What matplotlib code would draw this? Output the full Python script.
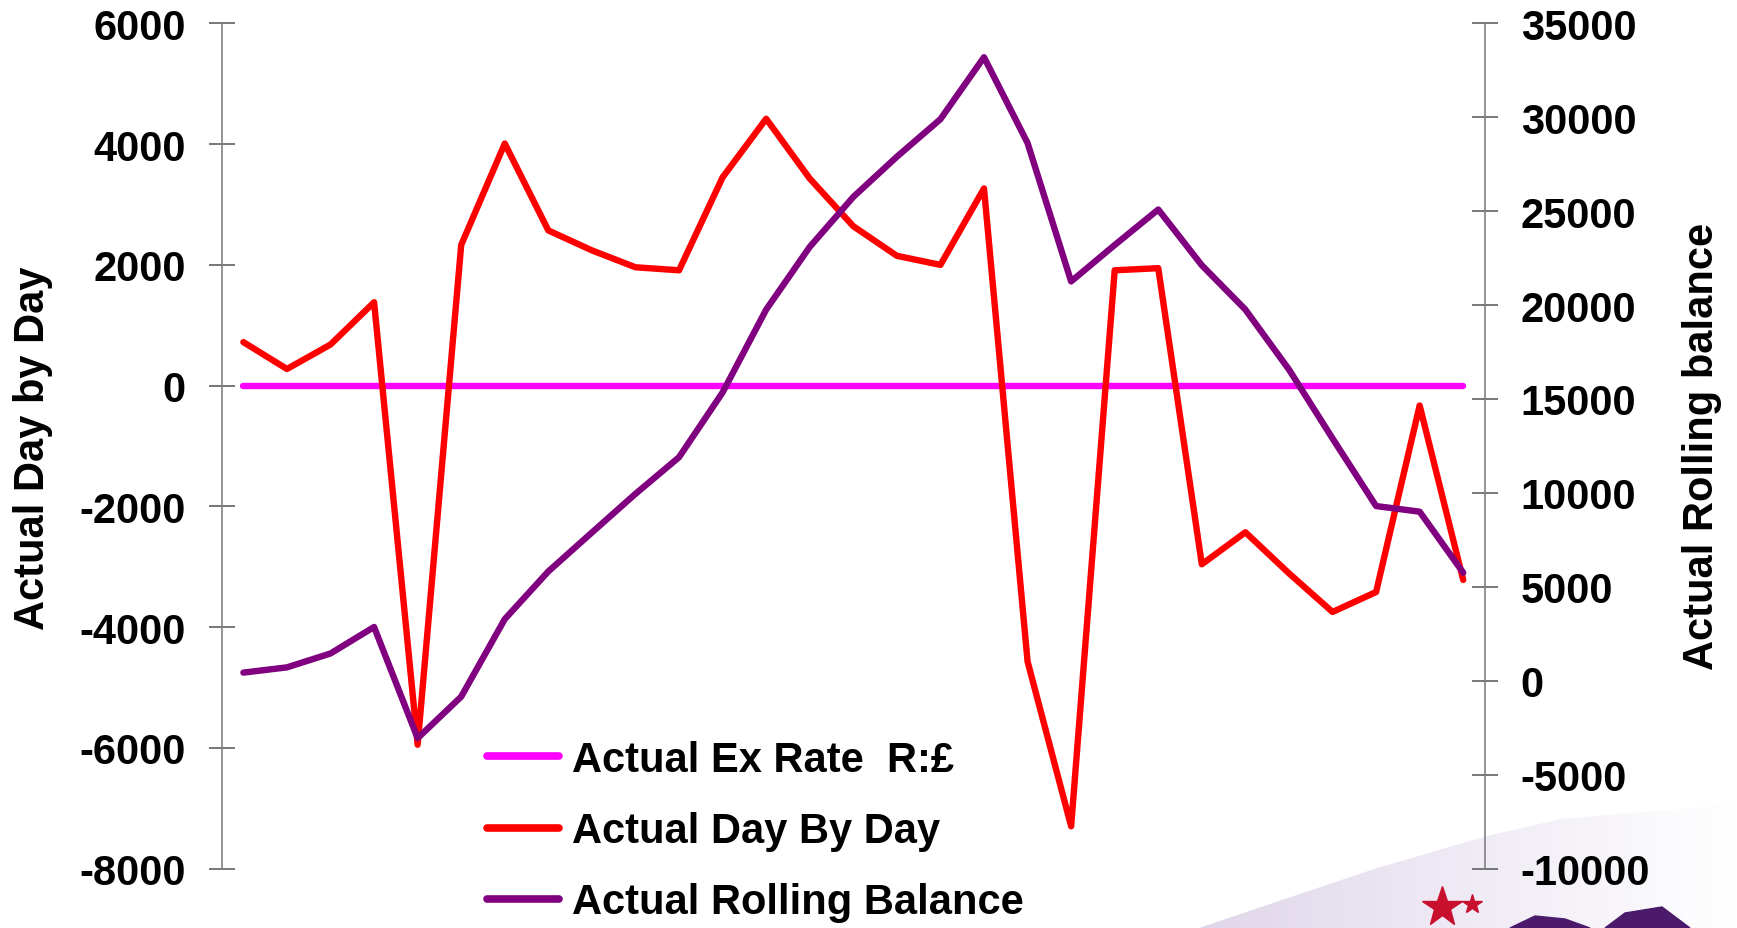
import matplotlib
matplotlib.use("Agg")
import matplotlib.pyplot as plt
import numpy as np
from matplotlib.lines import Line2D
from matplotlib.colors import LinearSegmentedColormap

plt.rcParams['font.family'] = ['Liberation Sans', 'DejaVu Sans']
plt.rcParams['font.weight'] = 'bold'
plt.rcParams['axes.unicode_minus'] = False

# ---- data ----
days = list(range(1, 30))
ex_rate = [0, 0, 0, 0, 0, 0, 0, 0, 0, 0, 0, 0, 0, 0, 0, 0, 0, 0, 0, 0,
           0, 0, 0, 0, 0, 0, 0, 0, 0]
day_by_day = [720, 275, 680, 1380, -5950, 2330, 4010, 2570, 2240, 1960,
              1910, 3450, 4420, 3430, 2640, 2150, 2000, 3266, -4570, -7300,
              1910, 1945, -2960, -2430, -3110, -3750, -3420, -330, -3220]
rolling_balance = [430, 710, 1450, 2860, -3060, -850, 3280, 5820, 7890, 9950,
                   11900, 15350, 19760, 23100, 25760, 27900, 29900, 33200, 28630, 21260,
                   23200, 25090, 22120, 19760, 16570, 12900, 9300, 9000, 5750]

left_ticks = [6000, 4000, 2000, 0, -2000, -4000, -6000, -8000]
right_ticks = [35000, 30000, 25000, 20000, 15000, 10000, 5000, 0, -5000, -10000]

labels = ["Actual Ex Rate  R:\u00a3", "Actual Day By Day", "Actual Rolling Balance"]
c_ex, c_day, c_roll = "#FF00FF", "#FF0000", "#800080"

W, H = 1737, 929
fig = plt.figure(figsize=(W / 100, H / 100), dpi=100)

# decorative background wedge (bottom right)
bg = fig.add_axes([0, 0, 1, 1], zorder=-5)
bg.set_xlim(0, W); bg.set_ylim(H, 0); bg.axis('off')
cmap = LinearSegmentedColormap.from_list("lav", ["#ffffff", "#eee9f4", "#ddd3e8"])
im = bg.imshow(np.tile(np.linspace(0.1, 1.0, 200), (60, 1))[:, ::-1], cmap=cmap,
               extent=(1150, W, H, 800), aspect='auto', zorder=-5)
poly = plt.Polygon([(1199, 929), (1374, 870), (1487, 837), (1561, 820), (1737, 805), (1737, 929)],
                   closed=True, transform=bg.transData)
im.set_clip_path(poly)
bg.plot([1442], [908], marker='*', markersize=30, color='#c8102e', linestyle='none')
bg.plot([1472], [905], marker='*', markersize=15, color='#c8102e', linestyle='none')
bg.add_patch(plt.Polygon([(1510, 929), (1535, 917), (1565, 920), (1590, 929)], color='#4b1a6b'))
bg.add_patch(plt.Polygon([(1605, 929), (1625, 914), (1662, 908), (1690, 929)], color='#4b1a6b'))

# ---- main axes ----
left_px, right_px, top_px, bot_px = 221.6, 1485, 24.4, 869.5
ax = fig.add_axes([left_px / W, 1 - bot_px / H, (right_px - left_px) / W, (bot_px - top_px) / H])
ax.patch.set_alpha(0)
ax2 = ax.twinx()
ax2.patch.set_alpha(0)

x = np.arange(len(days))
lw = 4.6
l1, = ax.plot(x, ex_rate, color=c_ex, lw=lw, solid_capstyle='round', solid_joinstyle='round', zorder=2)
l2, = ax.plot(x, day_by_day, color=c_day, lw=lw, solid_capstyle='round', solid_joinstyle='round', zorder=3)
l3, = ax2.plot(x, rolling_balance, color=c_roll, lw=lw, solid_capstyle='round', solid_joinstyle='round', zorder=4)

ax.set_xlim(-0.5, len(days) - 0.5)
ax.set_ylim(-8000, 6000)
ax2.set_ylim(-10000, 35000)
ax.set_yticks(left_ticks)
ax2.set_yticks(right_ticks)
ax.set_xticks([])

for a in (ax, ax2):
    for s in ('top', 'bottom'):
        a.spines[s].set_visible(False)
ax.spines['right'].set_visible(False)
ax2.spines['left'].set_visible(False)
ax.spines['left'].set_color('#808080')
ax2.spines['right'].set_color('#808080')
ax.spines['left'].set_linewidth(1.2)
ax2.spines['right'].set_linewidth(1.2)

ax.tick_params(axis='y', direction='inout', length=19.4, width=1.2, color='#606060',
               pad=16, labelsize=30)
ax2.tick_params(axis='y', direction='inout', length=19.4, width=1.2, color='#606060',
                pad=16, labelsize=30)
for t in ax.get_yticklabels() + ax2.get_yticklabels():
    t.set_fontweight('bold')

fig.text(33 / W, 1 - 448 / H, "Actual Day by Day", rotation=90, ha='center', va='center',
         fontsize=30, fontweight='bold')
fig.text(1702 / W, 1 - 446 / H, "Actual Rolling balance", rotation=90, ha='center', va='center',
         fontsize=30, fontweight='bold')

handles = [Line2D([], [], color=c, lw=5.5, solid_capstyle='round') for c in (c_ex, c_day, c_roll)]
leg = fig.legend(handles, labels, loc='upper left', bbox_to_anchor=(487 / W, 1 - 741 / H),
                 frameon=False, fontsize=30, handlelength=1.73, handletextpad=0.3,
                 labelspacing=0.75, borderpad=0, borderaxespad=0)
for t in leg.get_texts():
    t.set_fontweight('bold')

fig.savefig("out.png", dpi=100)
